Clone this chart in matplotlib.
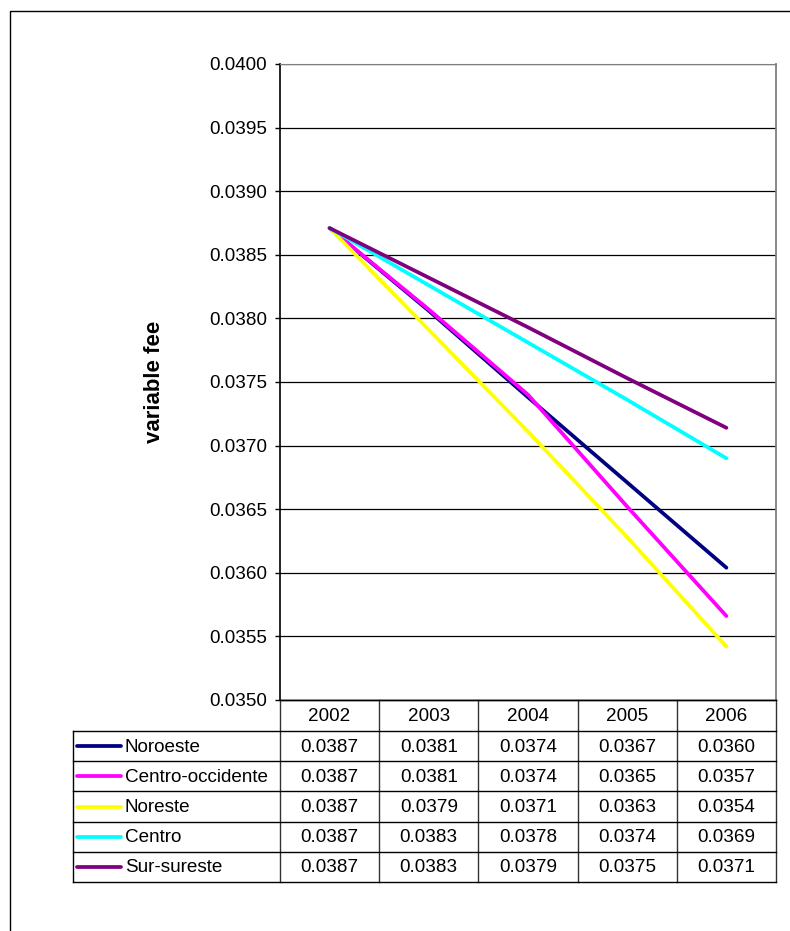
import matplotlib
matplotlib.use("Agg")
import matplotlib.pyplot as plt
from matplotlib.lines import Line2D
from matplotlib.patches import Rectangle

plt.rcParams['font.family'] = ['Liberation Sans', 'DejaVu Sans']

years = [2002, 2003, 2004, 2005, 2006]
regions = ["Noroeste", "Centro-occidente", "Noreste", "Centro", "Sur-sureste"]
colors = ["#000080", "#FF00FF", "#FFFF00", "#00FFFF", "#800080"]

noroeste = [0.03871, 0.03806, 0.03738, 0.03671, 0.03604]
centro_occidente = [0.03871, 0.03807, 0.03740, 0.03652, 0.03566]
noreste = [0.03871, 0.03791, 0.03711, 0.03628, 0.03542]
centro = [0.03871, 0.03826, 0.03781, 0.03736, 0.03690]
sur_sureste = [0.03871, 0.03832, 0.03793, 0.03753, 0.03714]
series = [noroeste, centro_occidente, noreste, centro, sur_sureste]

y_ticks = [0.0350, 0.0355, 0.0360, 0.0365, 0.0370, 0.0375,
           0.0380, 0.0385, 0.0390, 0.0395, 0.0400]

FS = 13.6
LW = 2.7

W, H = 790, 931
fig = plt.figure(figsize=(W / 100, H / 100), dpi=100)
fig.patch.set_facecolor("white")

def fx(px):
    return px / W

# plot area in pixel layout
L, R, T, B = 280, 776, 64, 700
ax = fig.add_axes([fx(L), 1 - B / H, fx(R - L), (B - T) / H])
for vals, col in zip(series, colors):
    ax.plot(years, vals, color=col, lw=LW, solid_capstyle="round", zorder=3)

ax.set_xlim(2001.5, 2006.5)
ax.set_ylim(0.0350, 0.0400)
ax.set_yticks(y_ticks)
ax.set_yticklabels([f"{v:.4f}" for v in y_ticks], fontsize=FS)
ax.set_xticks([])
ax.yaxis.grid(True, color="#000000", lw=0.9)
ax.set_axisbelow(True)
ax.tick_params(axis="y", direction="out", length=3.6, width=1, pad=5.5, colors="black")
ax.spines["left"].set_color("black")
ax.spines["left"].set_linewidth(1.2)
ax.spines["bottom"].set_color("black")
ax.spines["bottom"].set_linewidth(1.0)
ax.spines["top"].set_color("#808080")
ax.spines["right"].set_color("#808080")
ax.spines["right"].set_linewidth(1.3)
ax.set_ylabel("variable fee", fontsize=16, fontweight="bold")
ax.yaxis.label.set_va("center")
ax.yaxis.set_label_coords((155 - L) / (R - L), 0.5)

# overlay in pixel coordinates for the data table and outer frame
ov = fig.add_axes([0, 0, 1, 1], zorder=5)
ov.set_xlim(0, W)
ov.set_ylim(H, 0)
ov.axis("off")
ov.patch.set_alpha(0)

ov.add_patch(Rectangle((10, 11), W + 20, H + 20, fill=False, ec="black", lw=1.0))

# column boundaries from the plot's x scale
def px_of(xval):
    return ax.transData.transform((xval, 0.0375))[0]

bounds = [px_of(y - 0.5) for y in years] + [px_of(years[-1] + 0.5)]
centers = [px_of(y) for y in years]

head_top, head_bot = B, 731
row_h = 30.2
rows_top = head_bot
rows_bot = rows_top + row_h * len(regions)
lab_left = 73

lc = "black"
# header row
for b in bounds:
    ov.plot([b, b], [head_top, rows_bot], color="#333333", lw=1.0)
ov.plot([bounds[0], bounds[-1]], [head_top, head_top], color=lc, lw=1.0)
for yr, cx in zip(years, centers):
    ov.text(cx, (head_top + head_bot) / 2 + 1, str(yr), ha="center", va="center", fontsize=FS)

# body rows
ov.plot([lab_left, lab_left], [rows_top, rows_bot], color=lc, lw=1.0)
for i in range(len(regions) + 1):
    yy = rows_top + i * row_h
    ov.plot([lab_left, bounds[-1]], [yy, yy], color=lc, lw=1.0)

for i, (name, col, vals) in enumerate(zip(regions, colors, series)):
    cy = rows_top + (i + 0.5) * row_h
    ov.add_line(Line2D([77, 121], [cy, cy], color=col, lw=LW, solid_capstyle="round"))
    ov.text(125, cy + 1, name, ha="left", va="center", fontsize=FS)
    for v, cx in zip(vals, centers):
        ov.text(cx, cy + 1, f"{v:.4f}", ha="center", va="center", fontsize=FS)

fig.savefig("out.png", dpi=100, facecolor="white")
